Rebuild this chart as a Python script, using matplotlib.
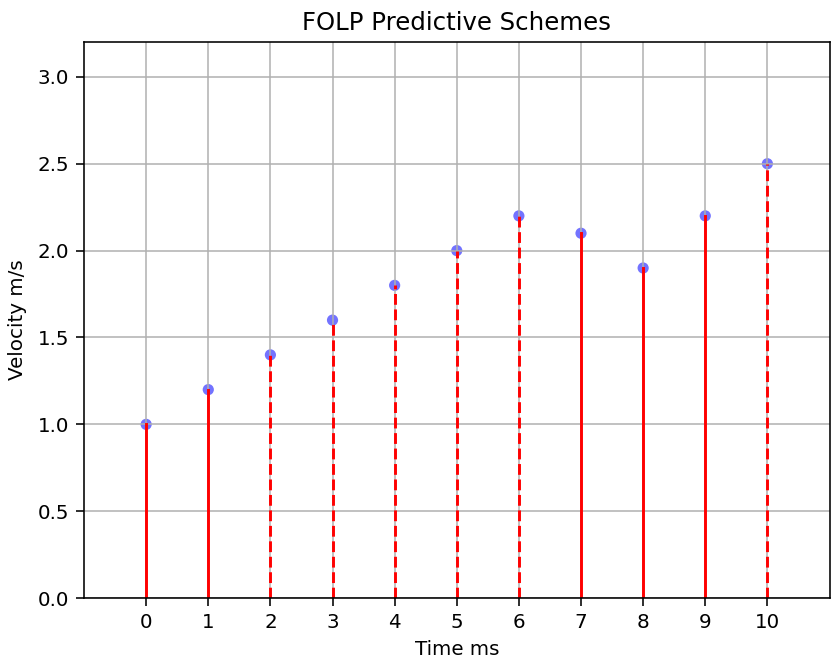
import matplotlib
matplotlib.use("Agg")
import matplotlib.pyplot as plt

# Время и скорость
time_ms = [0, 1, 2, 3, 4, 5, 6, 7, 8, 9, 10]
velocity = [1.0, 1.2, 1.4, 1.6, 1.8, 2.0, 2.2, 2.1, 1.9, 2.2, 2.5]
predicted = [False, False, True, True, True, True, True, False, False, False, True]

fig = plt.figure(figsize=(8.32, 6.58), dpi=100)
ax = fig.add_axes([0.101, 0.091, 0.896, 0.845])

for t, v, p in zip(time_ms, velocity, predicted):
    ax.plot([t, t], [0, v], color='red', lw=2.1,
            linestyle='--' if p else '-')

ax.scatter(time_ms, velocity, c='blue', alpha=0.55, s=65, edgecolor='none')

ax.set_xlim(-1, 11)
ax.set_ylim(0, 3.2)
ax.set_xticks(time_ms)
ax.grid(True, lw=1.1)
for sp in ax.spines.values():
    sp.set_linewidth(1.15)
ax.tick_params(labelsize=14.3, length=5.5, width=1.15, pad=5)
ax.set_xlabel('Time ms', fontsize=14.3, labelpad=6)
ax.set_ylabel('Velocity m/s', fontsize=14.3, labelpad=8)
ax.set_title('FOLP Predictive Schemes', fontsize=17.6, pad=9)

fig.savefig('out.png', dpi=100)
